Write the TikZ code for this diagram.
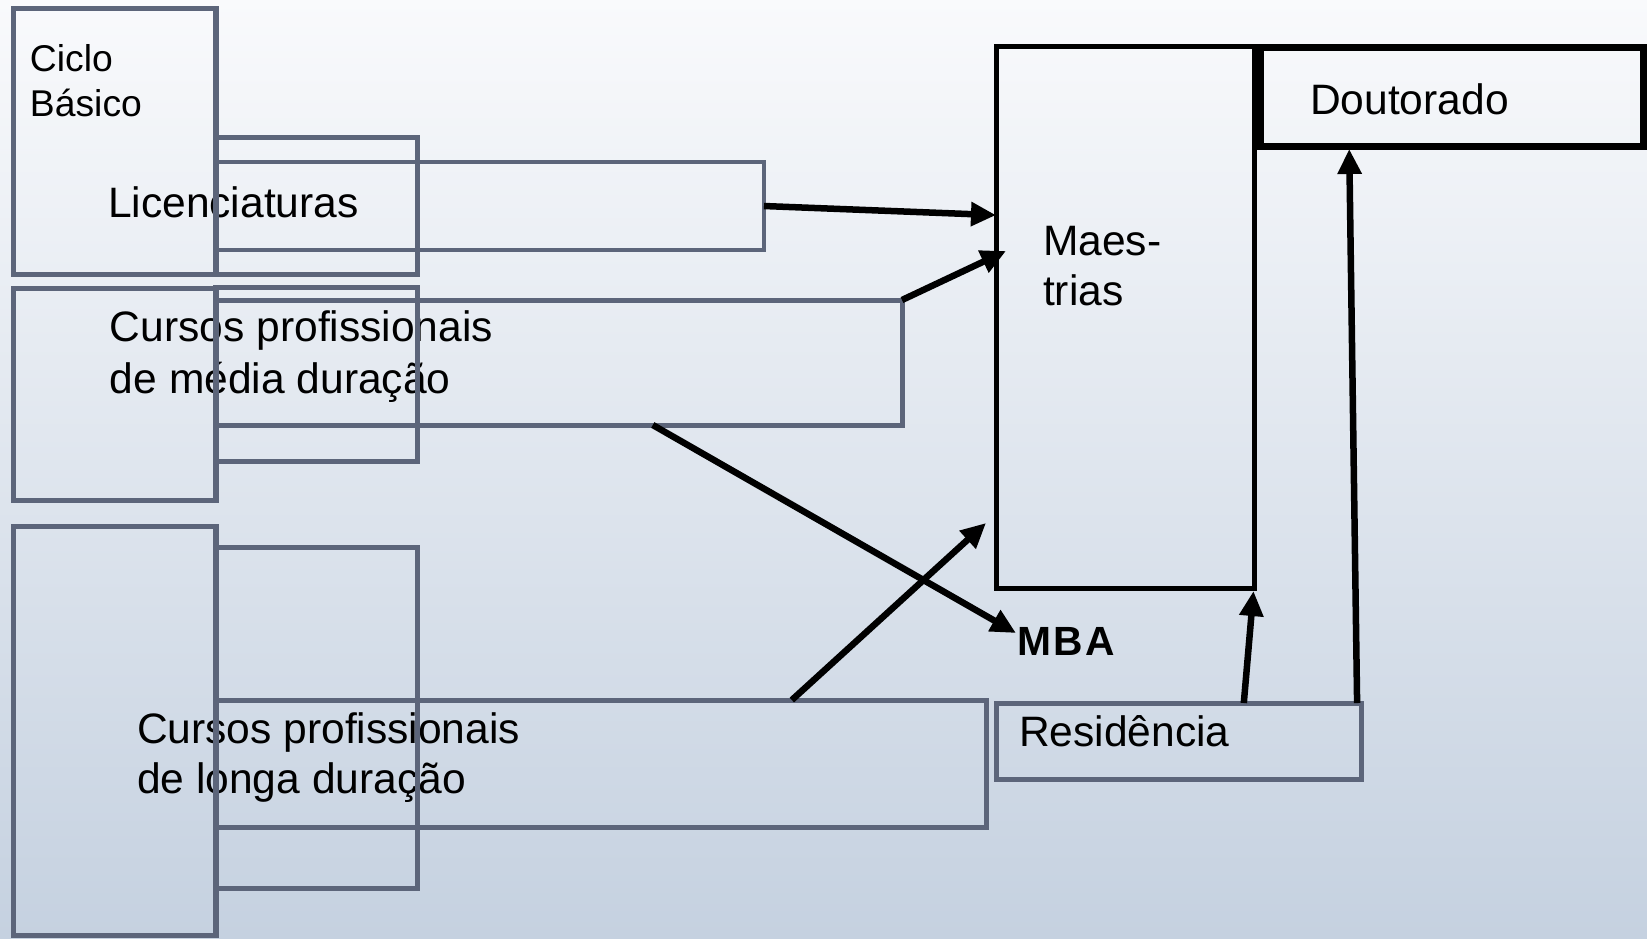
\documentclass[tikz,border=0pt]{standalone}
\usepackage{fontspec}
\setmainfont{Liberation Sans}
\usetikzlibrary{arrows.meta,fit,calc}
\definecolor{boxgray}{RGB}{92,101,122}
\definecolor{bgtop}{RGB}{249,250,252}
\definecolor{bgbot}{RGB}{197,209,224}
\begin{document}
\begin{tikzpicture}[x=0.01cm,y=-0.01cm,
  gbox/.style={draw=boxgray,line width=0.05cm,inner sep=0pt,outer sep=0pt},
  kbox/.style={draw=black,line width=0.05cm,inner sep=0pt,outer sep=0pt},
  lbl/.style={inner sep=0pt,outer sep=0pt,anchor=base west,align=left,font=\fontsize{12.1}{14.2}\selectfont},
  arr/.style={draw=black,line width=0.065cm,-{Triangle[length=0.25cm,width=0.23cm]}}]
% background
\shade[top color=bgtop,bottom color=bgbot] (0,0) rectangle (1647,938);
\useasboundingbox (0,0) rectangle (1647,938);
% texts (base anchor = baseline of last line)
\node[lbl,font=\fontsize{10.6}{12.8}\selectfont] (tcb) at (30,116) {Ciclo\\Básico};
\node[lbl] (tlic) at (108,217) {Licenciaturas};
\node[lbl,font=\fontsize{12.1}{14.6}\selectfont] (tmed) at (110,393) {Cursos profissionais\\de média duração};
\node[lbl] (tlon) at (137,793) {Cursos profissionais\\de longa duração};
\node[lbl] (tmae) at (1043,305) {Maes-\\trias};
\node[lbl] (tdou) at (1310,114) {Doutorado};
\node[lbl] (tres) at (1019,746) {Residência};
\node[lbl,font=\fontsize{11.6}{13}\selectfont\bfseries\addfontfeature{LetterSpace=6}] (mba) at (1017,655) {MBA};
% boxes
\node[gbox,fit={(13.5,8.5) (216,274.5)}] (cb1) {};
\node[gbox,fit={(215.5,137) (417,274)}] (cb2) {};
\node[gbox,line width=0.04cm,fit={(215.5,162) (764,250)}] (lic) {};
\node[gbox,fit={(13.5,288) (216,500)}] (m1) {};
\node[gbox,fit={(215.5,287) (417,461)}] (m2) {};
\node[gbox,fit={(215.5,300) (902,425)}] (med) {};
\node[gbox,fit={(13.5,526) (216,935)}] (l1) {};
\node[gbox,fit={(215.5,547) (417,888)}] (l2) {};
\node[gbox,fit={(215.5,700) (986,827)}] (lon) {};
\node[gbox,fit={(996,703) (1361.5,779.5)}] (res) {};
\node[kbox,fit={(996,46) (1254.5,588)}] (mae) {};
\node[kbox,line width=0.07cm,fit={(1260.5,47.5) (1643,146)}] (dou) {};
% free ends
\coordinate (medtip) at (1006,251);
\coordinate (lontip) at (986,523);
\coordinate (mbatip) at (1016,633);
% connectors
\draw[arr] (lic.east) -- ($(mae.north west)!0.312!(mae.south west)$);
\draw[arr] (med.north east) -- (medtip);
\draw[arr] ($(med.south west)!0.637!(med.south east)$) -- (mbatip);
\draw[arr] ($(lon.north west)!0.748!(lon.north east)$) -- (lontip);
\draw[arr] ($(res.north west)!0.678!(res.north east)$) -- ($(mae.south east)+(-1,3)$);
\draw[arr] ($(res.north west)!0.988!(res.north east)$) -- ($(dou.south west)!0.232!(dou.south east)+(0,3)$);
\end{tikzpicture}
\end{document}
